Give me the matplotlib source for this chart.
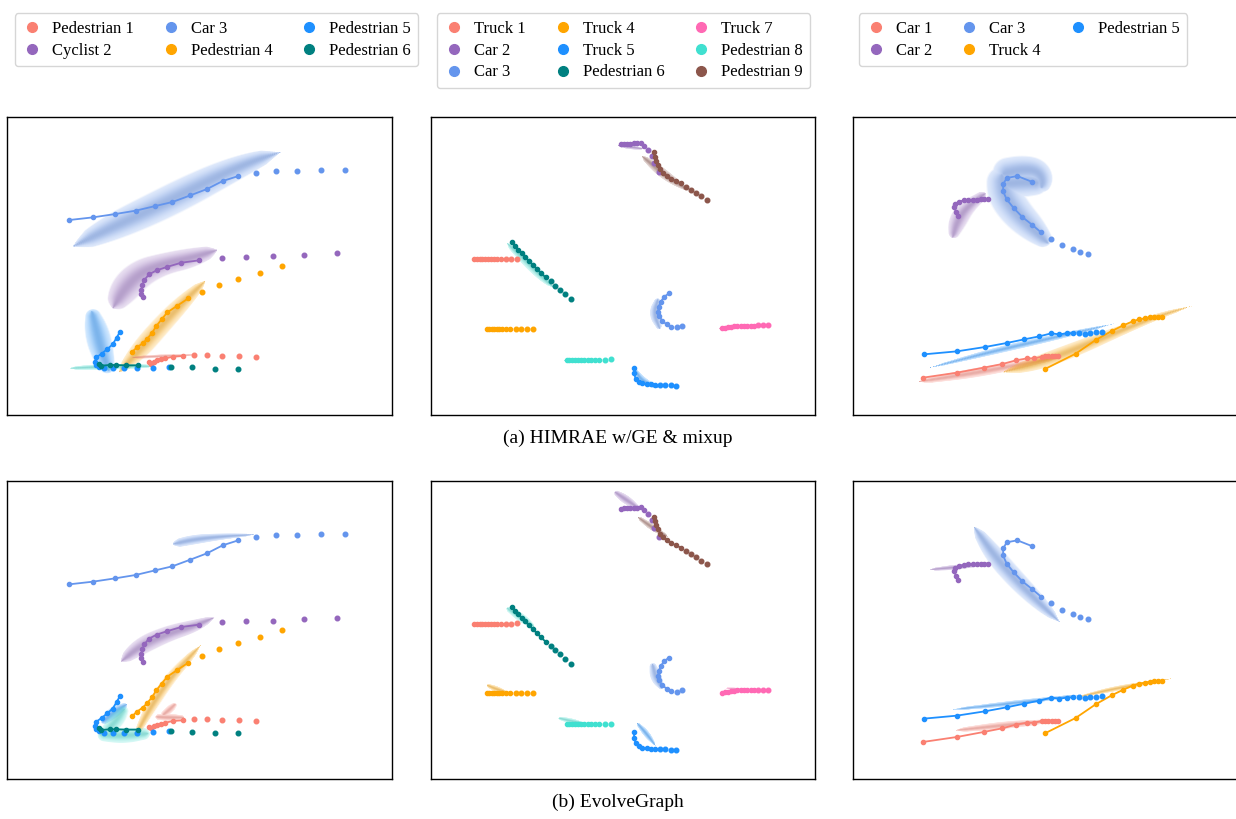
import numpy as np
import matplotlib
matplotlib.use("Agg")
import matplotlib.pyplot as plt
from matplotlib.lines import Line2D
from matplotlib.colors import to_rgb

plt.rcParams['font.family'] = ['Liberation Serif', 'DejaVu Serif']

# ---------------- colours / labels ----------------
AGENT_COLORS = ['#FA8072', '#9467BD', '#6495ED', '#FFA500', '#1E90FF',
                '#008080', '#FF69B4', '#40E0D0', '#8C564B']

scene1_labels = ['Pedestrian 1', 'Cyclist 2', 'Car 3', 'Pedestrian 4', 'Pedestrian 5', 'Pedestrian 6']
scene2_labels = ['Truck 1', 'Car 2', 'Car 3', 'Truck 4', 'Truck 5', 'Pedestrian 6',
                 'Truck 7', 'Pedestrian 8', 'Pedestrian 9']
scene3_labels = ['Car 1', 'Car 2', 'Car 3', 'Truck 4', 'Pedestrian 5']

# ---------------- scene 1 ground truth (observed history / future) ----------------
s1_ped1_hist = [(447,757),(454,761),(462,756),(470,751),(482,748),(496,745),(520,740),(548,738)]
s1_ped1_fut = [(583,735),(622,734),(665,737),(717,737),(769,740)]
s1_cyc2_hist = [(428,562),(424,552),(424,540),(427,525),(433,510),(447,493),(470,481),(500,471),(544,458),(597,451)]
s1_cyc2_fut = [(665,443),(737,440),(820,439),(911,434),(1011,430)]
s1_car3_hist = [(208,330),(279,322),(346,312),(407,302),(466,288),(517,276),(571,256),(621,237),(668,213),(715,198)]
s1_car3_fut = [(769,188),(827,182),(891,182),(962,180),(1034,180)]
s1_ped4_hist = [(397,725),(411,712),(428,700),(441,687),(456,669),(469,648),(485,628),(502,607),(532,587),(565,565)]
s1_ped4_fut = [(607,545),(657,524),(713,506),(779,488),(845,467)]
s1_ped5_hist = [(360,665),(350,683),(338,703),(322,717),(305,731),(289,742),(285,755),(287,765),(296,771)]
s1_ped5_fut = [(313,775),(338,775),(372,775),(410,775),(458,773),(508,770)]
s1_ped6_hist = [(298,762),(304,767),(330,765),(348,765),(378,766),(415,766)]
s1_ped6_fut = [(513,770),(575,772),(645,776),(713,776)]

# ---------------- scene 2 ground truth ----------------
s2_truck1_hist = [(148,448),(156,448),(164,448),(172,448),(180,448),(188,448),(197,448),(206,448),(216,448),(227,448)]
s2_truck1_fut = [(242,448),(259,448),(277,447)]
s2_car2_hist = [(588,103),(596,101),(605,102),(615,101),(626,100),(637,100),(649,98),(658,107)]
s2_car2_fut = [(670,120),(680,137),(688,160),(703,187)]
s2_car3_hist = [(733,550),(718,560),(708,575),(701,590),(700,605),(703,618),(712,632),(725,643),(740,650)]
s2_car3_fut = [(756,652),(773,648)]
s2_truck4_hist = [(187,657),(193,657),(200,657),(207,657),(215,657),(223,657),(232,657),(242,657),(255,657)]
s2_truck4_fut = [(272,657),(289,657),(306,657),(323,657)]
s2_truck5_hist = [(627,773),(628,790),(632,806),(641,815),(652,820),(665,822),(678,823),(690,824)]
s2_truck5_fut = [(705,824),(720,825),(737,826),(753,827)]
s2_ped6_hist = [(262,397),(270,409),(280,420),(290,430),(300,441),(312,453),(324,465),(336,477),(348,489),(362,502)]
s2_ped6_fut = [(377,514),(390,527),(404,540),(420,553),(437,568)]
s2_truck7_hist = [(893,655),(901,654),(909,652),(918,650),(928,649),(938,648),(948,648),(958,647),(968,647),(978,647),(988,647)]
s2_truck7_fut = [(1000,646),(1015,646),(1030,646)]
s2_ped8_hist = [(426,750),(433,750),(441,750),(449,750),(458,750),(467,750),(477,750),(488,749),(499,749),(511,749),(523,749)]
s2_ped8_fut = [(540,749),(557,748)]
s2_ped9_hist = [(686,127),(690,140),(694,152),(699,165),(706,178),(715,189),(726,198),(739,206),(753,213),(768,220)]
s2_ped9_fut = [(785,231),(800,239),(815,248),(830,259),(848,270)]

# ---------------- scene 3 ground truth ----------------
s3_car1_hist = [(219,803),(321,788),(401,773),(457,762),(498,751),(532,745),(552,745),(575,740),(585,739),(595,739),(605,739),(615,739),(625,739)]
s3_car1_fut = []
s3_car2_hist = [(325,317),(318,305),(313,291),(316,281),(327,275),(342,271),(355,270),(368,269),(380,269),(392,268),(403,268),(413,268)]
s3_car2_fut = []
s3_car3_hist = [(545,215),(502,198),(470,204),(460,222),(459,243),(470,268),(491,294),(517,321),(546,344),(573,367)]
s3_car3_fut = [(604,387),(637,406),(668,418),(691,427),(714,433)]
s3_truck4_hist = [(585,777),(677,731),(737,690),(785,663),(820,646),(848,634),(867,628),(885,625),(900,622),(912,621),(925,621),(935,621)]
s3_truck4_fut = []
s3_ped5_hist = [(222,733),(321,724),(405,711),(470,699),(523,688),(568,679),(604,670),(628,673),(651,670),(670,669)]
s3_ped5_fut = [(688,669),(706,672),(721,668),(737,667),(756,665)]

# ---------------- predicted distributions: centre path, spread, agent index ----------------
# HIMRAE w/GE & mixup
a1_pred_centres = [
    [(222,408),(330,355),(450,300),(560,245),(660,195),(760,152),(835,128)],
    [(340,592),(372,538),(420,490),(490,462),(570,445),(645,422)],
    [(360,785),(420,720),(480,650),(545,580),(612,515)],
    [(400,742),(480,738),(580,734)],
    [(276,605),(290,665),(305,725),(325,782)],
    [(212,776),(300,772),(400,770),(458,770)],
]
a1_pred_spread = [[18,40,46,46,40,28,10], [20,45,42,32,30,14], [10,28,28,24,10], [4,6,3], [18,36,34,18], [5,9,8,4]]
a1_pred_agent = [2, 1, 3, 0, 4, 7]

a2_pred_centres = [
    [(582,106),(615,110),(655,116)],
    [(652,140),(700,180),(740,210),(788,240)],
    [(247,400),(300,450),(350,500),(383,530)],
    [(140,448),(200,448),(253,448)],
    [(417,750),(440,750),(468,750)],
    [(700,567),(688,610),(705,655)],
    [(630,780),(650,812),(698,832)],
    [(882,656),(930,652),(958,648)],
]
a2_pred_spread = [[4,8,3], [7,15,13,5], [7,15,13,5], [2,4,2], [2,3,2], [8,18,7], [6,13,4], [2,4,2]]
a2_pred_agent = [1, 8, 7, 0, 7, 2, 4, 6]

a3_pred_centres = [
    [(455,195),(460,250),(495,305),(545,355),(590,398)],
    [(460,190),(510,178),(555,180),(575,205),(572,232)],
    [(470,220),(520,215),(560,218)],
    [(308,380),(322,330),(350,290),(402,250)],
    [(238,775),(450,720),(650,675),(788,643)],
    [(208,815),(400,785),(628,740)],
    [(460,785),(560,760),(680,715),(800,665),(920,618),(1022,587)],
]
a3_pred_spread = [[45,50,48,40,20], [45,42,38,32,20], [40,45,35], [12,28,22,12], [3,11,9,2], [8,16,7], [8,22,22,16,10,3]]
a3_pred_agent = [2, 2, 2, 1, 4, 0, 3]

# EvolveGraph
b1_pred_centres = [
    [(522,208),(580,195),(660,186),(758,180)],
    [(364,560),(420,515),(500,478),(580,455),(638,430)],
    [(407,783),(450,700),(510,610),(560,555),(598,514)],
    [(470,728),(510,730),(550,730)],
    [(490,722),(510,705),(525,690)],
    [(307,743),(340,712),(376,690)],
    [(300,782),(370,785),(440,778)],
    [(320,770),(350,735),(372,705)],
]
b1_pred_spread = [[12,15,10,3], [12,27,24,19,6], [8,17,16,13,4], [8,12,6], [8,12,6], [9,19,6], [18,24,16], [18,24,12]]
b1_pred_agent = [2, 1, 3, 0, 0, 4, 7, 7]

b2_pred_centres = [
    [(572,52),(605,75),(643,100)],
    [(640,131),(680,160),(726,187)],
    [(247,401),(290,430),(328,457)],
    [(187,633),(215,645),(243,652)],
    [(402,731),(440,740),(473,745)],
    [(682,572),(692,610),(710,644)],
    [(637,748),(665,780),(690,813)],
    [(905,640),(935,642),(963,645)],
]
b2_pred_spread = [[7,15,5], [5,11,4], [7,15,5], [5,10,3], [5,9,3], [9,19,6], [5,11,3], [2,4,2]]
b2_pred_agent = [1, 8, 7, 3, 7, 2, 4, 6]

b3_pred_centres = [
    [(374,160),(430,240),(500,320),(570,390),(625,442)],
    [(242,285),(320,278),(410,268)],
    [(312,706),(500,686),(688,662)],
    [(320,768),(470,752),(622,738)],
    [(682,667),(800,640),(958,612)],
]
b3_pred_spread = [[12,28,28,22,6], [4,9,3], [4,9,3], [6,13,4], [3,9,2]]
b3_pred_agent = [2, 1, 4, 0, 3]

captions = ['(a) HIMRAE w/GE & mixup', '(b) EvolveGraph']

# ---------------- helpers ----------------
def chaikin(arr, n=3):
    arr = np.asarray(arr, float)
    for _ in range(n):
        if len(arr) < 3:
            break
        new = [arr[0]]
        for p, q in zip(arr[:-1], arr[1:]):
            new.append(0.75 * p + 0.25 * q)
            new.append(0.25 * p + 0.75 * q)
        new.append(arr[-1])
        arr = np.array(new)
    return arr


def resample(centre, spread, M=120):
    arr = np.column_stack([np.asarray(centre, float), np.asarray(spread, float)])
    arr = chaikin(arr, 3)
    seg = np.hypot(np.diff(arr[:, 0]), np.diff(arr[:, 1]))
    L = np.concatenate([[0], np.cumsum(seg)])
    L = L / L[-1]
    t = np.linspace(0, 1, M)
    x = np.interp(t, L, arr[:, 0])
    y = np.interp(t, L, arr[:, 1])
    w = np.interp(t, L, arr[:, 2])
    taper = np.clip(np.sqrt(4 * t * (1 - t)) * 1.8, 0.25, 1.0)
    return x, y, np.maximum(w * taper, 1.5)


def density_group(strokes, step=3.0):
    pts = [resample(c, s) for c, s in strokes]
    allx = np.concatenate([p[0] for p in pts])
    ally = np.concatenate([p[1] for p in pts])
    allw = np.concatenate([p[2] for p in pts])
    pad = allw.max() * 1.3 + 6
    gx = np.arange(allx.min() - pad, allx.max() + pad, step)
    gy = np.arange(ally.min() - pad, ally.max() + pad, step)
    X, Y = np.meshgrid(gx, gy)
    Z = np.zeros_like(X)
    for x, y, w in pts:
        d2 = np.full(X.shape, np.inf)
        for xi, yi, wi in zip(x, y, w):
            d2 = np.minimum(d2, ((X - xi) ** 2 + (Y - yi) ** 2) / wi ** 2)
        Z = np.maximum(Z, np.exp(-2.3 * d2))
    return gx, gy, Z, step


def draw_pred(ax, centres, spreads, agents):
    groups = {}
    for c, s, a in zip(centres, spreads, agents):
        groups.setdefault(a, []).append((c, s))
    for a, strokes in groups.items():
        gx, gy, Z, step = density_group(strokes)
        base = np.array(to_rgb(AGENT_COLORS[a]))
        dark = base * 0.68 + np.array([0.12, 0.12, 0.13])
        f = np.clip((Z - 0.1) / 0.9, 0, 1)[..., None]
        rgb = base * (1 - 0.65 * f) + dark * 0.65 * f
        edge = np.clip((Z - 0.07) / 0.06, 0, 1)          # soft outer contour
        alpha = edge * (0.2 + 0.42 * f[..., 0])
        img = np.dstack([np.clip(rgb, 0, 1), alpha])
        ax.imshow(img, origin='lower', aspect='auto', interpolation='antialiased',
                  extent=(gx[0] - step / 2, gx[-1] + step / 2, gy[0] - step / 2, gy[-1] + step / 2),
                  zorder=1)


def draw_gt(ax, hists, futs):
    for i, (h, f) in enumerate(zip(hists, futs)):
        col = AGENT_COLORS[i]
        h = np.asarray(h, float)
        ax.plot(h[:, 0], h[:, 1], '-o', color=col, lw=1.3, ms=3.0, zorder=3)
        if len(f):
            f = np.asarray(f, float)
            ax.plot(f[:, 0], f[:, 1], 'o', color=col, ms=3.3, zorder=3, lw=0)


scene_hists = [
    [s1_ped1_hist, s1_cyc2_hist, s1_car3_hist, s1_ped4_hist, s1_ped5_hist, s1_ped6_hist],
    [s2_truck1_hist, s2_car2_hist, s2_car3_hist, s2_truck4_hist, s2_truck5_hist, s2_ped6_hist,
     s2_truck7_hist, s2_ped8_hist, s2_ped9_hist],
    [s3_car1_hist, s3_car2_hist, s3_car3_hist, s3_truck4_hist, s3_ped5_hist],
]
scene_futs = [
    [s1_ped1_fut, s1_cyc2_fut, s1_car3_fut, s1_ped4_fut, s1_ped5_fut, s1_ped6_fut],
    [s2_truck1_fut, s2_car2_fut, s2_car3_fut, s2_truck4_fut, s2_truck5_fut, s2_ped6_fut,
     s2_truck7_fut, s2_ped8_fut, s2_ped9_fut],
    [s3_car1_fut, s3_car2_fut, s3_car3_fut, s3_truck4_fut, s3_ped5_fut],
]
scene_labels = [scene1_labels, scene2_labels, scene3_labels]
preds = [
    [(a1_pred_centres, a1_pred_spread, a1_pred_agent),
     (a2_pred_centres, a2_pred_spread, a2_pred_agent),
     (a3_pred_centres, a3_pred_spread, a3_pred_agent)],
    [(b1_pred_centres, b1_pred_spread, b1_pred_agent),
     (b2_pred_centres, b2_pred_spread, b2_pred_agent),
     (b3_pred_centres, b3_pred_spread, b3_pred_agent)],
]

# ---------------- layout ----------------
W, H = 1236, 819
fig = plt.figure(figsize=(W / 100, H / 100), dpi=100)

col_left_px = [7.3, 431.0, 853.3]
panel_w_px = 384.4
row_top_px = [116.7, 481.0]
panel_h_px = 298.3
xlims = [(22, 1175), (18, 1172), (10, 1163)]
ylim = (915, 20)

for r in range(2):
    for c in range(3):
        ax = fig.add_axes([col_left_px[c] / W, 1 - (row_top_px[r] + panel_h_px) / H,
                           panel_w_px / W, panel_h_px / H])
        pc, ps, pa = preds[r][c]
        draw_pred(ax, pc, ps, pa)
        draw_gt(ax, scene_hists[c], scene_futs[c])
        ax.set_xlim(*xlims[c])
        ax.set_ylim(*ylim)
        ax.set_xticks([])
        ax.set_yticks([])
        for sp in ax.spines.values():
            sp.set_color('black')
            sp.set_linewidth(1.0)

# ---------------- legends ----------------
leg_cx_px = [216.5, 623.5, 1023.0]
for c in range(3):
    handles = [Line2D([], [], marker='o', linestyle='', color=AGENT_COLORS[i], markersize=7)
               for i in range(len(scene_labels[c]))]
    leg = fig.legend(handles, scene_labels[c], ncol=3, loc='upper center',
                     bbox_to_anchor=(leg_cx_px[c] / W, 1 - 5 / H), fontsize=12,
                     frameon=True, fancybox=True, edgecolor='#cccccc',
                     handlelength=1.2, handletextpad=0.6, columnspacing=1.6,
                     labelspacing=0.35, borderpad=0.45)
    leg.get_frame().set_linewidth(1.0)

# ---------------- captions ----------------
fig.text(0.5, 1 - 438 / H, captions[0], ha='center', va='center', fontsize=14)
fig.text(0.5, 1 - 802 / H, captions[1], ha='center', va='center', fontsize=14)

fig.savefig('out.png', dpi=100)
